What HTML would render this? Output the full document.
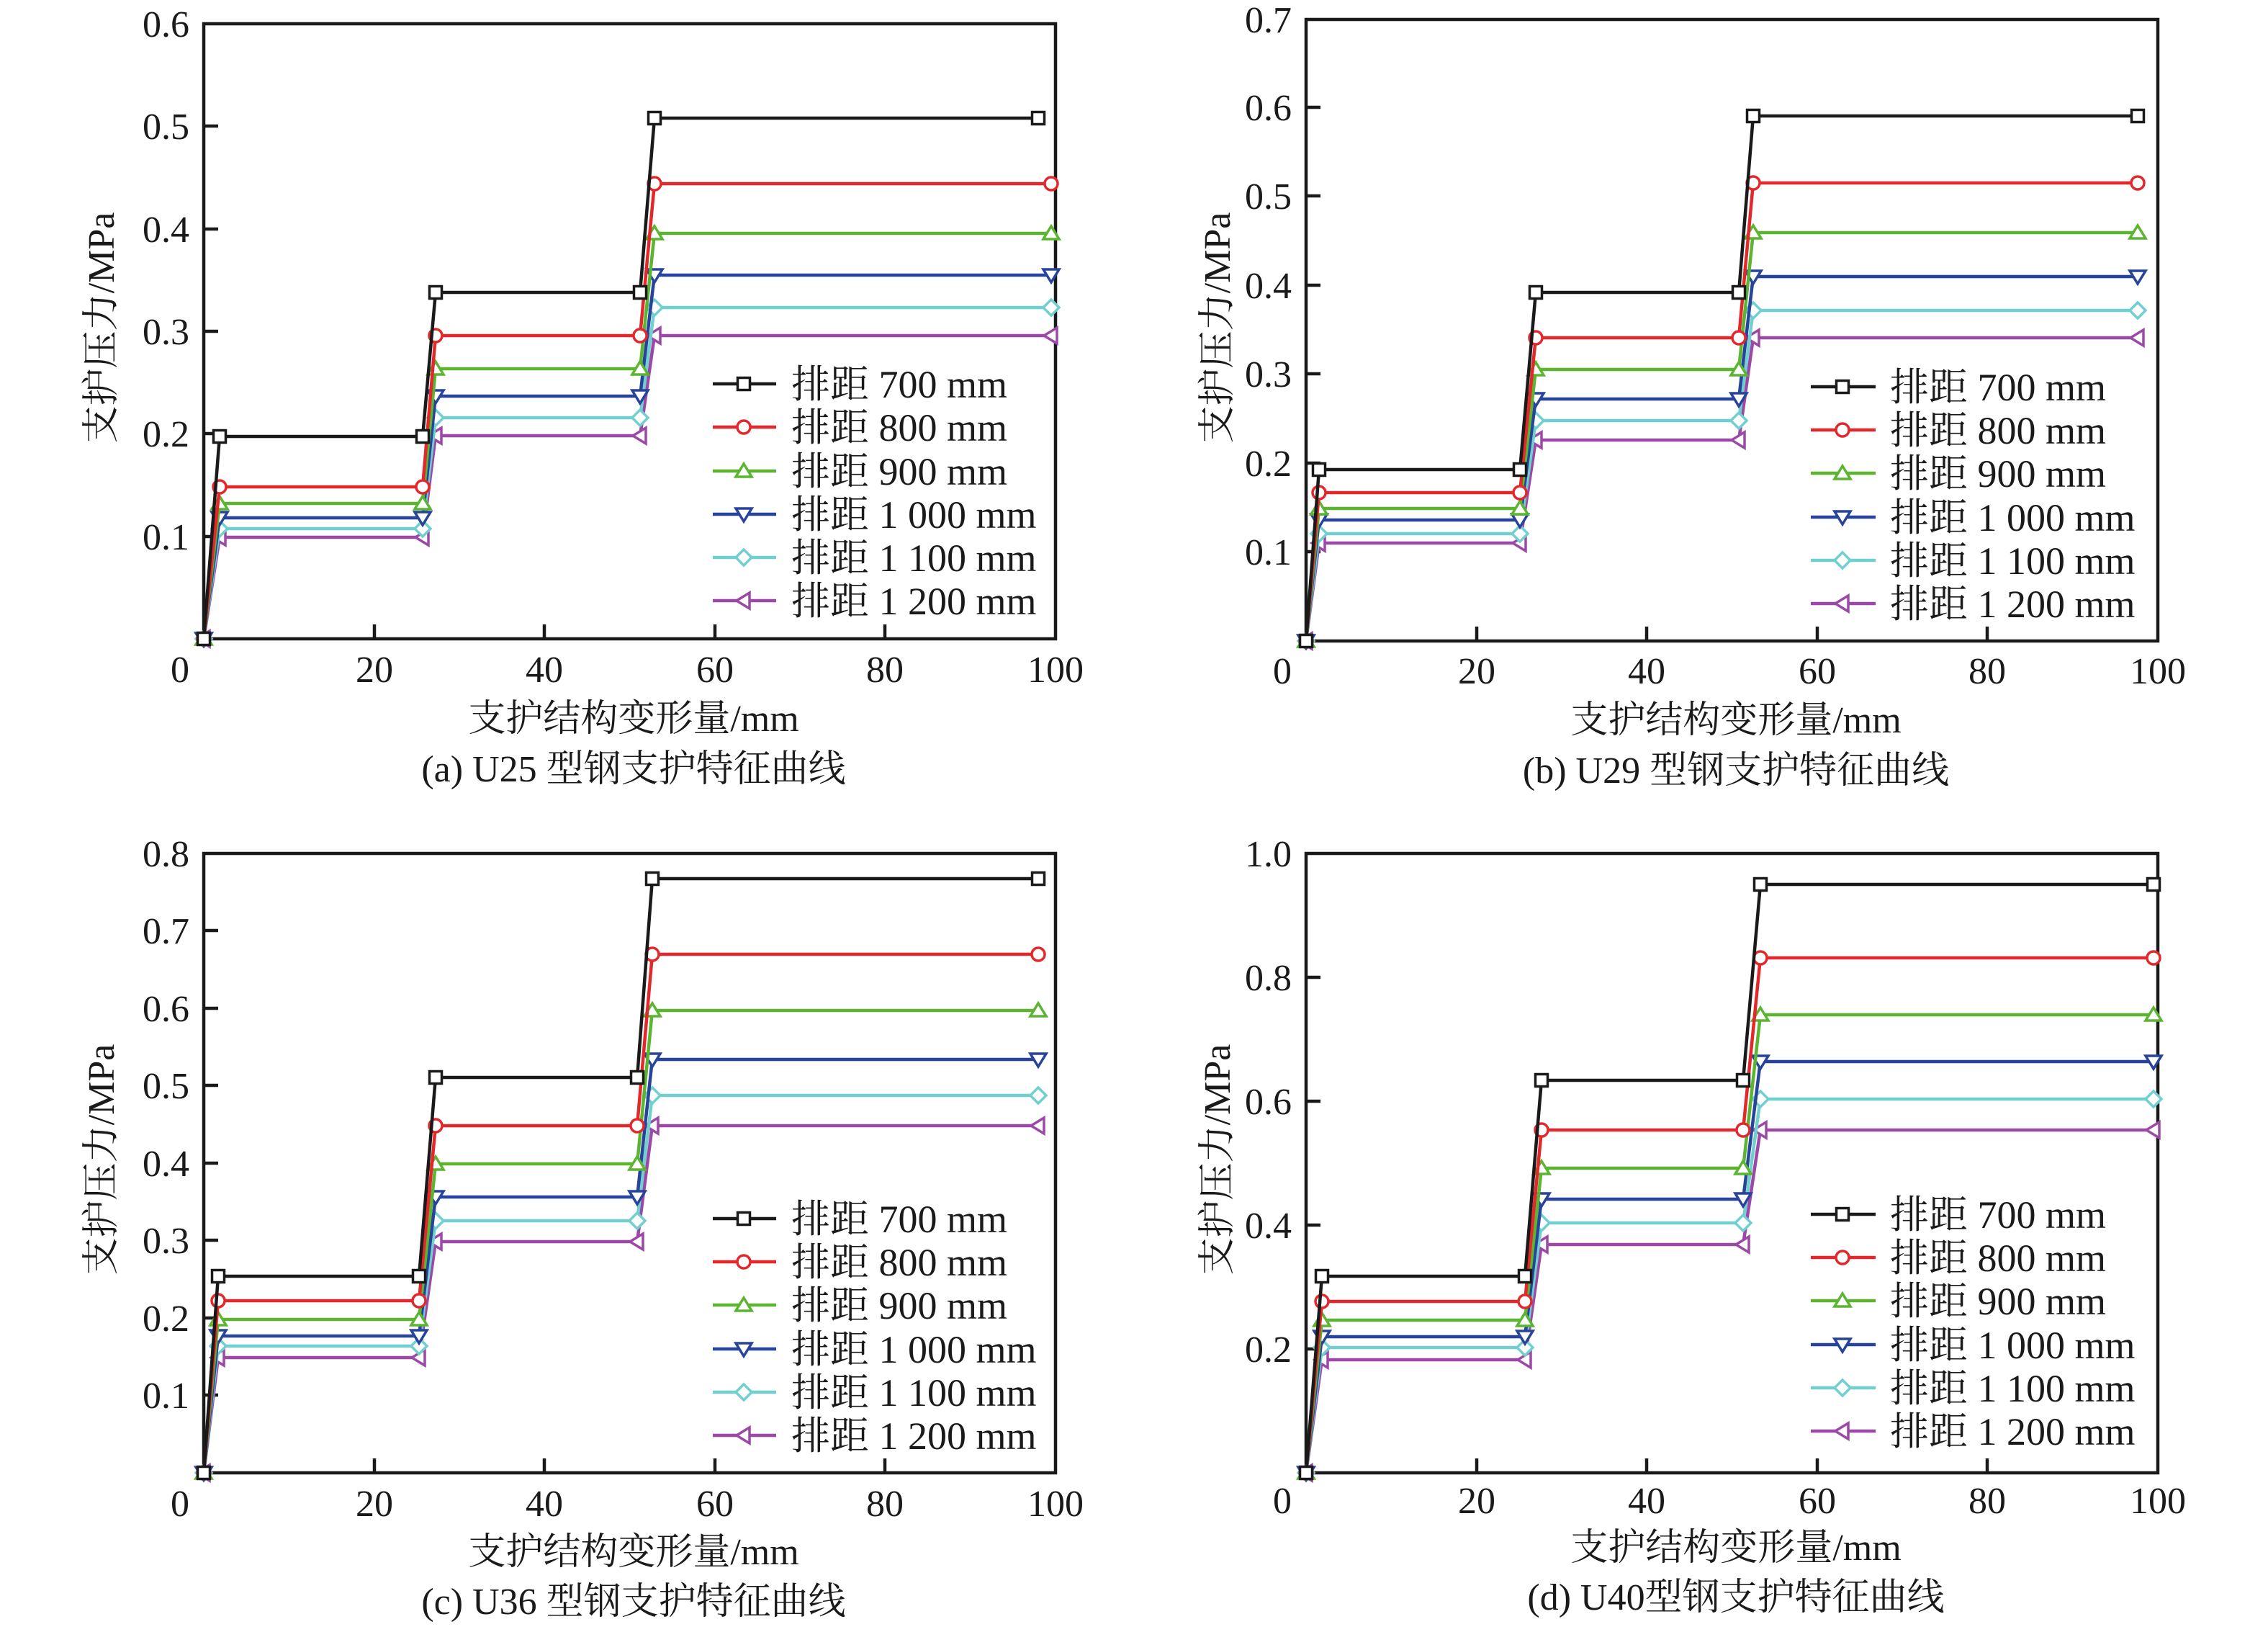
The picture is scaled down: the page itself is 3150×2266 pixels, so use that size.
<!DOCTYPE html>
<html><head><meta charset="utf-8"><style>
html,body{margin:0;padding:0;background:#fff;}
svg{display:block;}
text{font-family:"Liberation Serif","Noto Serif CJK SC","Noto Sans CJK SC",serif;fill:#1a1a1a;}
.t{font-size:52px;}
.lg{font-size:54px;}
.ax{fill:none;stroke:#1a1a1a;stroke-width:4.5;}
.s{fill:none;stroke-width:4.5;stroke-linejoin:miter;}
.k{stroke:#1a1a1a;marker-start:url(#mk);marker-mid:url(#mk);marker-end:url(#mk);}
.r{stroke:#e3282c;marker-start:url(#mr);marker-mid:url(#mr);marker-end:url(#mr);}
.g{stroke:#5cb531;marker-start:url(#mg);marker-mid:url(#mg);marker-end:url(#mg);}
.b{stroke:#27449a;marker-start:url(#mb);marker-mid:url(#mb);marker-end:url(#mb);}
.c{stroke:#71cfcf;marker-start:url(#mc);marker-mid:url(#mc);marker-end:url(#mc);}
.p{stroke:#9b48a6;marker-start:url(#mp);marker-mid:url(#mp);marker-end:url(#mp);}
.lk{stroke:#1a1a1a;marker-mid:url(#mk);}
.lr{stroke:#e3282c;marker-mid:url(#mr);}
.lgg{stroke:#5cb531;marker-mid:url(#mg);}
.lb{stroke:#27449a;marker-mid:url(#mb);}
.lc{stroke:#71cfcf;marker-mid:url(#mc);}
.lp{stroke:#9b48a6;marker-mid:url(#mp);}
</style></head><body>
<svg width="3150" height="2266" viewBox="0 0 3150 2266" xmlns="http://www.w3.org/2000/svg">
<defs>
<marker id="mk" markerUnits="userSpaceOnUse" viewBox="-14 -14 28 28" markerWidth="28" markerHeight="28" refX="0" refY="0"><rect x="-8.5" y="-8.5" width="17" height="17" fill="#fff" stroke="#1a1a1a" stroke-width="3.5"/></marker>
<marker id="mr" markerUnits="userSpaceOnUse" viewBox="-14 -14 28 28" markerWidth="28" markerHeight="28" refX="0" refY="0"><circle r="9" fill="#fff" stroke="#e3282c" stroke-width="3.5"/></marker>
<marker id="mg" markerUnits="userSpaceOnUse" viewBox="-14 -14 28 28" markerWidth="28" markerHeight="28" refX="0" refY="0"><polygon points="0,-10 11,8 -11,8" fill="#fff" stroke="#5cb531" stroke-width="3.5"/></marker>
<marker id="mb" markerUnits="userSpaceOnUse" viewBox="-14 -14 28 28" markerWidth="28" markerHeight="28" refX="0" refY="0"><polygon points="0,10 11,-8 -11,-8" fill="#fff" stroke="#27449a" stroke-width="3.5"/></marker>
<marker id="mc" markerUnits="userSpaceOnUse" viewBox="-14 -14 28 28" markerWidth="28" markerHeight="28" refX="0" refY="0"><polygon points="0,-11 11,0 0,11 -11,0" fill="#fff" stroke="#71cfcf" stroke-width="3.5"/></marker>
<marker id="mp" markerUnits="userSpaceOnUse" viewBox="-14 -14 28 28" markerWidth="28" markerHeight="28" refX="0" refY="0"><polygon points="-10,0 8,-11 8,11" fill="#fff" stroke="#9b48a6" stroke-width="3.5"/></marker>
</defs>

<!-- ===== Panel (a) ===== -->
<rect class="ax" x="283" y="33" width="1183" height="854"/>
<path class="ax" d="M283,745h20M283,602h20M283,460h20M283,318h20M283,175h20M520,887v-20M756,887v-20M993,887v-20M1229,887v-20"/>
<g class="t" text-anchor="end">
<text x="263" y="51">0.6</text><text x="263" y="193">0.5</text><text x="263" y="336">0.4</text><text x="263" y="478">0.3</text><text x="263" y="620">0.2</text><text x="263" y="763">0.1</text>
</g>
<g class="t" text-anchor="middle">
<text x="250" y="947">0</text><text x="520" y="947">20</text><text x="756" y="947">40</text><text x="993" y="947">60</text><text x="1229" y="947">80</text><text x="1466" y="947">100</text>
<text x="880" y="1015">支护结构变形量/mm</text>
<text x="880" y="1085">(a) U25 型钢支护特征曲线</text>
</g>
<text class="t" text-anchor="middle" transform="translate(158,455) rotate(-90)">支护压力/MPa</text>
<polyline class="s p" points="283,887 305,746 587,746 605,605 889,605 909,466 1460,466"/>
<polyline class="s c" points="283,887 305,734 587,734 605,580 889,580 909,427 1460,427"/>
<polyline class="s b" points="283,887 305,719 587,719 605,550 889,550 909,382 1460,382"/>
<polyline class="s g" points="283,887 305,699 587,699 605,512 889,512 909,324 1460,324"/>
<polyline class="s r" points="283,887 305,676 587,676 605,466 889,466 909,255 1460,255"/>
<polyline class="s k" points="283,887 305,606 587,606 605,406 889,406 909,164 1442,164"/>
<g>
<polyline class="s lk" points="990,533 1033,533 1078,533"/>
<polyline class="s lr" points="990,593 1033,593 1078,593"/>
<polyline class="s lgg" points="990,654 1033,654 1078,654"/>
<polyline class="s lb" points="990,714 1033,714 1078,714"/>
<polyline class="s lc" points="990,774 1033,774 1078,774"/>
<polyline class="s lp" points="990,834 1033,834 1078,834"/>
<g class="lg"><text x="1099" y="552">排距 700 mm</text><text x="1099" y="612">排距 800 mm</text><text x="1099" y="673">排距 900 mm</text><text x="1099" y="733">排距 1 000 mm</text><text x="1099" y="793">排距 1 100 mm</text><text x="1099" y="853">排距 1 200 mm</text></g>
</g>

<!-- ===== Panel (b) ===== -->
<rect class="ax" x="1814" y="27" width="1183" height="863"/>
<path class="ax" d="M1814,766h20M1814,643h20M1814,519h20M1814,396h20M1814,272h20M1814,149h20M2051,890v-20M2287,890v-20M2524,890v-20M2760,890v-20"/>
<g class="t" text-anchor="end">
<text x="1794" y="45">0.7</text><text x="1794" y="167">0.6</text><text x="1794" y="290">0.5</text><text x="1794" y="414">0.4</text><text x="1794" y="537">0.3</text><text x="1794" y="661">0.2</text><text x="1794" y="784">0.1</text>
</g>
<g class="t" text-anchor="middle">
<text x="1781" y="949">0</text><text x="2051" y="949">20</text><text x="2287" y="949">40</text><text x="2524" y="949">60</text><text x="2760" y="949">80</text><text x="2997" y="949">100</text>
<text x="2411" y="1017">支护结构变形量/mm</text>
<text x="2411" y="1087">(b) U29 型钢支护特征曲线</text>
</g>
<text class="t" text-anchor="middle" transform="translate(1708,455) rotate(-90)">支护压力/MPa</text>
<polyline class="s p" points="1814,890 1832,754 2111,754 2133,611 2415,611 2435,469 2969,469"/>
<polyline class="s c" points="1814,890 1832,741 2111,741 2133,584 2415,584 2435,431 2969,431"/>
<polyline class="s b" points="1814,890 1832,722 2111,722 2133,554 2415,554 2435,384 2969,384"/>
<polyline class="s g" points="1814,890 1832,706 2111,706 2133,513 2415,513 2435,323 2969,323"/>
<polyline class="s r" points="1814,890 1832,684 2111,684 2133,469 2415,469 2435,254 2969,254"/>
<polyline class="s k" points="1814,890 1832,652 2111,652 2133,406 2415,406 2435,161 2969,161"/>
<g>
<polyline class="s lk" points="2515,537 2559,537 2605,537"/>
<polyline class="s lr" points="2515,597 2559,597 2605,597"/>
<polyline class="s lgg" points="2515,657 2559,657 2605,657"/>
<polyline class="s lb" points="2515,718 2559,718 2605,718"/>
<polyline class="s lc" points="2515,778 2559,778 2605,778"/>
<polyline class="s lp" points="2515,838 2559,838 2605,838"/>
<g class="lg"><text x="2625" y="556">排距 700 mm</text><text x="2625" y="616">排距 800 mm</text><text x="2625" y="676">排距 900 mm</text><text x="2625" y="737">排距 1 000 mm</text><text x="2625" y="797">排距 1 100 mm</text><text x="2625" y="857">排距 1 200 mm</text></g>
</g>

<!-- ===== Panel (c) ===== -->
<rect class="ax" x="283" y="1185" width="1183" height="860"/>
<path class="ax" d="M283,1937h20M283,1830h20M283,1722h20M283,1615h20M283,1507h20M283,1400h20M283,1292h20M520,2045v-20M756,2045v-20M993,2045v-20M1229,2045v-20"/>
<g class="t" text-anchor="end">
<text x="263" y="1203">0.8</text><text x="263" y="1310">0.7</text><text x="263" y="1418">0.6</text><text x="263" y="1525">0.5</text><text x="263" y="1633">0.4</text><text x="263" y="1740">0.3</text><text x="263" y="1848">0.2</text><text x="263" y="1955">0.1</text>
</g>
<g class="t" text-anchor="middle">
<text x="250" y="2105">0</text><text x="520" y="2105">20</text><text x="756" y="2105">40</text><text x="993" y="2105">60</text><text x="1229" y="2105">80</text><text x="1466" y="2105">100</text>
<text x="880" y="2172">支护结构变形量/mm</text>
<text x="880" y="2241">(c) U36 型钢支护特征曲线</text>
</g>
<text class="t" text-anchor="middle" transform="translate(158,1610) rotate(-90)">支护压力/MPa</text>
<polyline class="s p" points="283,2045 303,1885 582,1885 605,1724 885,1724 906,1563 1442,1563"/>
<polyline class="s c" points="283,2045 303,1869 582,1869 605,1695 885,1695 906,1521 1442,1521"/>
<polyline class="s b" points="283,2045 303,1855 582,1855 605,1662 885,1662 906,1471 1442,1471"/>
<polyline class="s g" points="283,2045 303,1832 582,1832 605,1616 885,1616 906,1403 1442,1403"/>
<polyline class="s r" points="283,2045 303,1806 582,1806 605,1563 885,1563 906,1325 1442,1325"/>
<polyline class="s k" points="283,2045 303,1772 582,1772 605,1496 885,1496 906,1220 1442,1220"/>
<g>
<polyline class="s lk" points="990,1692 1033,1692 1078,1692"/>
<polyline class="s lr" points="990,1752 1033,1752 1078,1752"/>
<polyline class="s lgg" points="990,1812 1033,1812 1078,1812"/>
<polyline class="s lb" points="990,1873 1033,1873 1078,1873"/>
<polyline class="s lc" points="990,1933 1033,1933 1078,1933"/>
<polyline class="s lp" points="990,1993 1033,1993 1078,1993"/>
<g class="lg"><text x="1099" y="1711">排距 700 mm</text><text x="1099" y="1771">排距 800 mm</text><text x="1099" y="1831">排距 900 mm</text><text x="1099" y="1892">排距 1 000 mm</text><text x="1099" y="1952">排距 1 100 mm</text><text x="1099" y="2012">排距 1 200 mm</text></g>
</g>

<!-- ===== Panel (d) ===== -->
<rect class="ax" x="1814" y="1185" width="1183" height="860"/>
<path class="ax" d="M1814,1873h20M1814,1701h20M1814,1529h20M1814,1357h20M2051,2045v-20M2287,2045v-20M2524,2045v-20M2760,2045v-20"/>
<g class="t" text-anchor="end">
<text x="1794" y="1203">1.0</text><text x="1794" y="1375">0.8</text><text x="1794" y="1547">0.6</text><text x="1794" y="1719">0.4</text><text x="1794" y="1891">0.2</text>
</g>
<g class="t" text-anchor="middle">
<text x="1781" y="2101">0</text><text x="2051" y="2101">20</text><text x="2287" y="2101">40</text><text x="2524" y="2101">60</text><text x="2760" y="2101">80</text><text x="2997" y="2101">100</text>
<text x="2411" y="2166">支护结构变形量/mm</text>
<text x="2411" y="2235">(d) U40型钢支护特征曲线</text>
</g>
<text class="t" text-anchor="middle" transform="translate(1708,1610) rotate(-90)">支护压力/MPa</text>
<polyline class="s p" points="1814,2045 1836,1888 2118,1888 2141,1728 2421,1728 2445,1569 2991,1569"/>
<polyline class="s c" points="1814,2045 1836,1871 2118,1871 2141,1698 2421,1698 2445,1526 2991,1526"/>
<polyline class="s b" points="1814,2045 1836,1856 2118,1856 2141,1665 2421,1665 2445,1474 2991,1474"/>
<polyline class="s g" points="1814,2045 1836,1833 2118,1833 2141,1622 2421,1622 2445,1409 2991,1409"/>
<polyline class="s r" points="1814,2045 1836,1807 2118,1807 2141,1569 2421,1569 2445,1330 2991,1330"/>
<polyline class="s k" points="1814,2045 1836,1772 2118,1772 2141,1500 2421,1500 2445,1228 2991,1228"/>
<g>
<polyline class="s lk" points="2515,1686 2559,1686 2605,1686"/>
<polyline class="s lr" points="2515,1746 2559,1746 2605,1746"/>
<polyline class="s lgg" points="2515,1806 2559,1806 2605,1806"/>
<polyline class="s lb" points="2515,1867 2559,1867 2605,1867"/>
<polyline class="s lc" points="2515,1927 2559,1927 2605,1927"/>
<polyline class="s lp" points="2515,1987 2559,1987 2605,1987"/>
<g class="lg"><text x="2625" y="1705">排距 700 mm</text><text x="2625" y="1765">排距 800 mm</text><text x="2625" y="1825">排距 900 mm</text><text x="2625" y="1886">排距 1 000 mm</text><text x="2625" y="1946">排距 1 100 mm</text><text x="2625" y="2006">排距 1 200 mm</text></g>
</g>
</svg>
</body></html>
